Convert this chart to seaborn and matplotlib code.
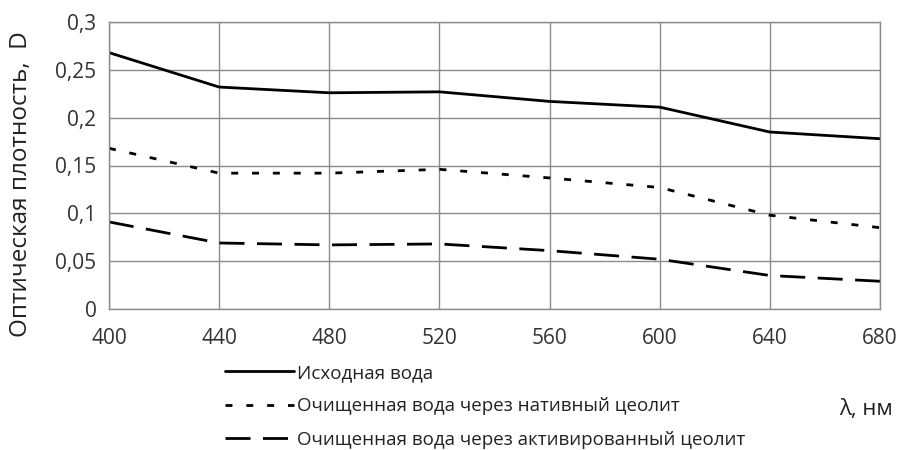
import matplotlib
matplotlib.use("Agg")
import matplotlib.pyplot as plt
import seaborn as sns
import pandas as pd
from matplotlib.lines import Line2D

# Wavelengths (nm) and optical density for each water sample
wavelengths = [400, 440, 480, 520, 560, 600, 640, 680]
source_water = [0.268, 0.232, 0.226, 0.227, 0.217, 0.211, 0.185, 0.178]
native_zeolite = [0.168, 0.142, 0.142, 0.146, 0.137, 0.127, 0.098, 0.085]
activated_zeolite = [0.091, 0.069, 0.067, 0.068, 0.061, 0.052, 0.035, 0.029]

series_names = [
    "Исходная вода",
    "Очищенная вода через нативный цеолит",
    "Очищенная вода через активированный цеолит",
]
y_ticks = [0, 0.05, 0.1, 0.15, 0.2, 0.25, 0.3]
y_tick_labels = ["0", "0,05", "0,1", "0,15", "0,2", "0,25", "0,3"]

sns.set_theme(style="white")
plt.rcParams["font.family"] = ["Open Sans", "DejaVu Sans"]

df = pd.DataFrame({
    "wl": wavelengths * 3,
    "D": source_water + native_zeolite + activated_zeolite,
    "series": [series_names[0]] * 8 + [series_names[1]] * 8 + [series_names[2]] * 8,
})

fig = plt.figure(figsize=(9.01, 4.5), dpi=100)
ax = fig.add_axes([109 / 901, 1 - 309 / 450, (880 - 109) / 901, (309 - 22) / 450])

lw = 2.0
dot_pattern = (2.5, 5)
dash_pattern = (9, 4.5)
sns.lineplot(
    data=df, x="wl", y="D", style="series", hue="series",
    palette=["black"] * 3,
    dashes={series_names[0]: "", series_names[1]: dot_pattern, series_names[2]: dash_pattern},
    linewidth=lw, ax=ax, legend=False, sort=False,
)

ax.set_xlim(400, 680)
ax.set_ylim(0, 0.3)
ax.set_xticks(wavelengths)
ax.set_xticklabels([str(w) for w in wavelengths])
ax.set_yticks(y_ticks)
ax.set_yticklabels(y_tick_labels)
ax.grid(True, color="#8c8c8c", linewidth=1.0)
for s in ax.spines.values():
    s.set_color("#8c8c8c")
    s.set_linewidth(1.0)
ax.tick_params(axis="both", colors="#8c8c8c", length=5, width=1.0,
               labelcolor="#333333", labelsize=15, direction="out")
ax.tick_params(axis="x", pad=9)
ax.tick_params(axis="y", pad=4)
ax.set_xlabel("")
ax.set_ylabel("Оптическая плотность,  D", fontsize=17.5, color="#222222")
ax.yaxis.set_label_coords(-0.098, 0.436)

# Legend placed below the axes
handles = [
    Line2D([], [], color="black", lw=lw),
    Line2D([], [], color="black", lw=lw, dashes=dot_pattern),
    Line2D([], [], color="black", lw=lw, dashes=dash_pattern),
]
fig.legend(handles, series_names, loc="upper left", bbox_to_anchor=(208 / 901, 1 - 347 / 450),
           frameon=False, fontsize=13.5, handlelength=3.7, handletextpad=0.15,
           labelspacing=0.82, labelcolor="#222222")

fig.text(866 / 901, 1 - 410 / 450, "λ, нм", fontsize=16, color="#222222",
         ha="center", va="center")

fig.savefig("out.png", dpi=100)
